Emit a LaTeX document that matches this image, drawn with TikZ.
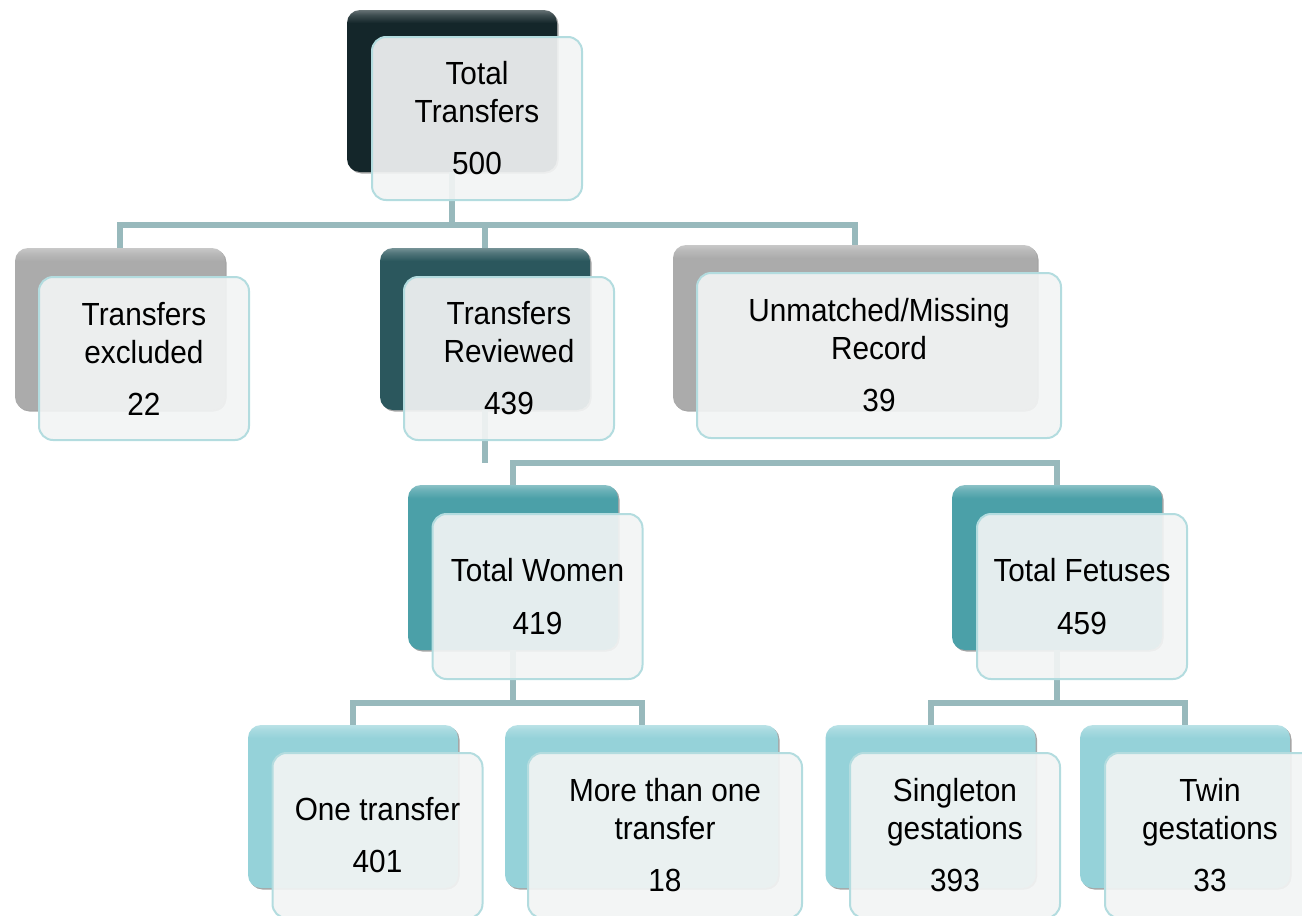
\documentclass[tikz,border=0pt]{standalone}
\usepackage{fontspec}
\setmainfont{Liberation Sans}[FakeStretch=0.93]
\usetikzlibrary{shadows,calc}
\definecolor{cdark}{HTML}{14262A}
\definecolor{crev}{HTML}{2B575D}
\definecolor{cgray}{HTML}{ABABAB}
\definecolor{cmid}{HTML}{4BA0A8}
\definecolor{clight}{HTML}{95D2D9}
\definecolor{frontfill}{HTML}{F2F4F4}
\definecolor{frontdraw}{HTML}{B3DCDF}
\definecolor{conncol}{HTML}{98B9BC}
\pgfdeclareverticalshading{shdark}{100bp}{color(0bp)=(cdark); color(71bp)=(cdark); color(73.5bp)=(cdark!82!white); color(75bp)=(cdark!65!white); color(100bp)=(cdark!65!white)}
\pgfdeclareverticalshading{shrev}{100bp}{color(0bp)=(crev); color(71bp)=(crev); color(73.5bp)=(crev!82!white); color(75bp)=(crev!65!white); color(100bp)=(crev!65!white)}
\pgfdeclareverticalshading{shgray}{100bp}{color(0bp)=(cgray); color(71bp)=(cgray); color(73.5bp)=(cgray!82!white); color(75bp)=(cgray!65!white); color(100bp)=(cgray!65!white)}
\pgfdeclareverticalshading{shmid}{100bp}{color(0bp)=(cmid); color(71bp)=(cmid); color(73.5bp)=(cmid!82!white); color(75bp)=(cmid!65!white); color(100bp)=(cmid!65!white)}
\pgfdeclareverticalshading{shlight}{100bp}{color(0bp)=(clight); color(71bp)=(clight); color(73.5bp)=(clight!82!white); color(75bp)=(clight!65!white); color(100bp)=(clight!65!white)}
\pgfdeclarelayer{backl}
\pgfdeclarelayer{connl}
\pgfsetlayers{backl,connl,main}
\begin{document}
\begin{tikzpicture}[x=1pt,y=-1pt,
  backbox/.style={rounded corners=13pt, minimum width=210pt, minimum height=163pt,
    inner sep=0pt, draw=none,
    drop shadow={shadow xshift=1.5pt, shadow yshift=-1.5pt, opacity=0.35, fill=black}},
  frontbox/.style={rounded corners=14pt, minimum width=210pt, minimum height=165pt,
    inner sep=0pt, fill=frontfill, fill opacity=0.92, text opacity=1,
    draw=frontdraw, line width=2pt, align=center,
    font=\fontsize{32}{38}\selectfont},
  conn/.style={draw=conncol, line width=6pt}]
\useasboundingbox (0,0) rectangle (1302,916);
\begin{pgfonlayer}{backl}
\node[backbox, shading=shdark, minimum height=162pt] (topb) at (452,91) {};
\node[backbox, shading=shgray, minimum height=162pt] (exb) at (120,329) {};
\node[backbox, shading=shrev, minimum height=162pt] (revb) at (485,329) {};
\node[backbox, shading=shgray, minimum width=364pt, minimum height=165pt] (unb) at (855,327.5) {};
\node[backbox, shading=shmid, minimum height=165pt] (womb) at (513,567.5) {};
\node[backbox, shading=shmid, minimum height=165pt] (fetb) at (1057,567.5) {};
\node[backbox, shading=shlight] (oneb) at (353,806.5) {};
\node[backbox, shading=shlight, minimum width=273pt] (moreb) at (641.5,806.5) {};
\node[backbox, shading=shlight] (sinb) at (930.5,806.5) {};
\node[backbox, shading=shlight] (twib) at (1185,806.5) {};
\end{pgfonlayer}
\coordinate (bus1) at (0,225);
\coordinate (bus2) at (0,463);
\coordinate (bus3) at (0,703);
\begin{pgfonlayer}{connl}
\draw[conn] (topb.south) -- (topb.south |- bus1);
\draw[conn] (exb.north) |- (unb.north |- bus1) -- (unb.north);
\draw[conn] (revb.north) -- (revb.north |- bus1);
\draw[conn] (revb.south) -- (revb.south |- bus2);
\draw[conn] (womb.north) |- (fetb.north |- bus2) -- (fetb.north);
\draw[conn] (womb.south) -- (womb.south |- bus3);
\draw[conn] (oneb.north) |- (moreb.north |- bus3) -- (moreb.north);
\draw[conn] (fetb.south) -- (fetb.south |- bus3);
\draw[conn] (sinb.north) |- (twib.north |- bus3) -- (twib.north);
\end{pgfonlayer}
\node[frontbox, minimum height=163pt] (topf) at (477,118.5) {Total\\Transfers\\[14pt]500};
\node[frontbox, minimum height=163pt] (exf) at (144,358.5) {Transfers\\excluded\\[14pt]22};
\node[frontbox, minimum height=163pt] (revf) at (509,358.5) {Transfers\\Reviewed\\[14pt]439};
\node[frontbox, minimum width=364pt] (unf) at (879,355.5) {Unmatched/Missing\\Record\\[14pt]39};
\node[frontbox] (womf) at (537.5,596.5) {Total Women\\[15pt]419};
\node[frontbox] (fetf) at (1082,596.5) {Total Fetuses\\[15pt]459};
\node[frontbox] (onef) at (377.5,835.5) {One transfer\\[14pt]401};
\node[frontbox, minimum width=274pt] (moref) at (665,835.5) {More than one\\transfer\\[14pt]18};
\node[frontbox] (sinf) at (955,835.5) {Singleton\\gestations\\[14pt]393};
\node[frontbox] (twif) at (1210,835.5) {Twin\\gestations\\[14pt]33};
\end{tikzpicture}
\end{document}
